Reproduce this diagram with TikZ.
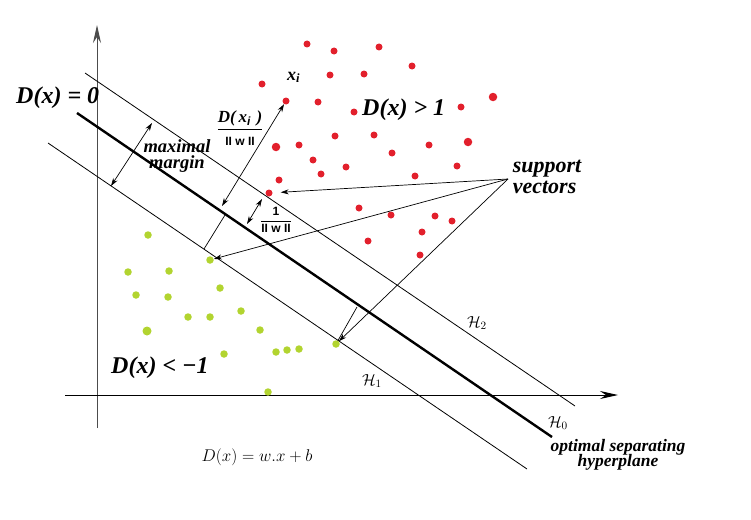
\RequirePackage{fix-cm}
\documentclass[tikz,border=0pt]{standalone}
\usepackage{amsmath}
\usepackage[no-math]{fontspec}
\setmainfont{Liberation Serif}
\newfontfamily\arialfont{Liberation Sans}
\usepackage{xcolor}
\usepackage{tikz}
\usetikzlibrary{arrows.meta}
\definecolor{dotred}{RGB}{226,32,44}
\definecolor{dotgreen}{RGB}{178,212,48}
\newcommand{\tightlines}{\lineskiplimit=-100pt\relax\lineskip=0pt\relax}

\begin{document}
\begin{tikzpicture}[x=1pt, y=-1pt,
    rdot/.style={circle, fill=dotred, inner sep=0pt, minimum size=7pt},
    rbig/.style={rdot, minimum size=8.5pt},
    gdot/.style={circle, fill=dotgreen, inner sep=0pt, minimum size=7.5pt},
    gbig/.style={gdot, minimum size=9pt},
    bigtext/.style={inner sep=0pt, font=\fontsize{24}{21}\selectfont\bfseries\itshape},
    margintext/.style={inner sep=0pt, align=center, font=\fontsize{18.5}{15.5}\selectfont\tightlines\bfseries\itshape},
    supporttext/.style={inner sep=0pt, align=left, font=\fontsize{22}{21}\selectfont\tightlines\bfseries\itshape},
    optimaltext/.style={inner sep=0pt, align=center, font=\fontsize{17.5}{15}\selectfont\tightlines\bfseries\itshape},
    twoway/.style={{Stealth[length=8pt,width=5pt]}-{Stealth[length=8pt,width=5pt]}, line width=0.7pt},
    pointer/.style={-{Stealth[length=8pt,width=5pt]}, line width=0.7pt},
    axisline/.style={line width=1pt, -{Stealth[length=18pt,width=8pt,inset=6pt]}},
    hlabel/.style={inner sep=0pt, font=\fontsize{16}{18}\selectfont}]
    \useasboundingbox (0,0) rectangle (751,519);
    \coordinate (xs) at (65,395);
    \coordinate (xe) at (618,395);
    \coordinate (ys) at (97,428);
    \coordinate (ye) at (97,25);
    \coordinate (h2a) at (85,73);
    \coordinate (h2b) at (575,406);
    \coordinate (h0a) at (77,113);
    \coordinate (h0b) at (552,437);
    \coordinate (h1a) at (48,143);
    \coordinate (h1b) at (527,469);
    \coordinate (mmtop) at (152,123);
    \coordinate (mmbot) at (111,186);
    \coordinate (dxi) at (222,206);
    \coordinate (dxib) at (225,215);
    \coordinate (dxic) at (204,249);
    \coordinate (onea) at (247,224);
    \coordinate (oneb) at (262,199);
    \coordinate (lowa) at (357,307);
    \coordinate (sv) at (508,179);
    \draw[axisline, black!70] (ys) -- (ye);
    \draw[axisline] (xs) -- (xe);
    \draw[line width=0.8pt] (h2a) -- (h2b);
    \draw[line width=0.8pt] (h1a) -- (h1b);
    \draw[line width=2.4pt] (h0a) -- (h0b);
    \foreach \px/\py [count=\i] in {307/44, 334/51, 379/47, 412/66, 262/84, 330/75, 364/74,
        318/102, 354/112, 461/107, 299/145, 335/136, 374/135, 429/145, 392/153,
        313/160, 346/167, 321/174, 457/166, 415/176, 279/180, 359/208, 391/215,
        435/216, 452/221, 422/232, 368/241, 420/255}
        \node[rdot] (r\i) at (\px,\py) {};
    \foreach \px/\py [count=\i] in {493/97, 276/147, 468/142}
        \node[rbig] (rb\i) at (\px,\py) {};
    \foreach \px/\py [count=\i] in {148/235, 128/272, 169/271, 220/288, 136/295, 168/297,
        241/311, 188/317, 210/317, 260/330, 276/352, 287/350, 299/349, 224/354, 268/392}
        \node[gdot] (g\i) at (\px,\py) {};
    \node[gbig] (gb1) at (147,331) {};
    \node[rdot] (xi) at (286,101) {};
    \node[rdot] (svr) at (269,193) {};
    \node[gdot] (svg1) at (210,260) {};
    \node[gdot] (svg2) at (336,344) {};
    \draw[twoway] (mmtop) -- (mmbot);
    \draw[twoway] (dxi) -- (xi);
    \draw[line width=0.7pt] (dxib) -- (dxic);
    \draw[twoway] (onea) -- (oneb);
    \draw[line width=0.7pt] (lowa) -- (svg2);
    \draw[pointer, shorten >=8pt] (sv) -- (svr);
    \draw[pointer] (sv) -- (svg1);
    \draw[pointer] (sv) -- (svg2);
    \node[bigtext, anchor=base west] (dzero) at (16,103) {D(x) = 0};
    \node[bigtext, anchor=base west] (dpos) at (362,115) {D(x) > 1};
    \node[bigtext, anchor=base west] (dneg) at (111,373) {D(x) < −1};
    \node[margintext] (margin) at (177,156) {maximal\\margin};
    \node[supporttext] (support) at (547,177) {support\\vectors};
    \node[optimaltext] (optimal) at (618,455) {optimal separating\\hyperplane};
    \node[inner sep=0pt, anchor=base west, font=\fontsize{18}{20}\selectfont\bfseries\itshape] (xilabel) at (287,80) {x\textsubscript{i}};
    \node[inner sep=0pt] (fracxi) at (240,128) {\fontsize{17}{19}\selectfont
        $\dfrac{\text{\bfseries\itshape D(\,x\textsubscript{\arialfont i}\,\,)}}{\text{\fontsize{12}{14}\selectfont\arialfont\bfseries II w II}}$};
    \node[inner sep=0pt] (fracone) at (276,220) {\fontsize{12}{14}\selectfont
        $\dfrac{\text{\arialfont\bfseries 1}}{\text{\arialfont\bfseries II w II}}$};
    \node[hlabel] (htwo) at (477,323) {$\mathcal{H}_2$};
    \node[hlabel] (hone) at (372,381) {$\mathcal{H}_1$};
    \node[hlabel] (hzero) at (558,423) {$\mathcal{H}_0$};
    \node[inner sep=0pt, font=\fontsize{17}{19}\selectfont] (formula) at (257,457) {$D(x) = w.x + b$};
\end{tikzpicture}
\end{document}
